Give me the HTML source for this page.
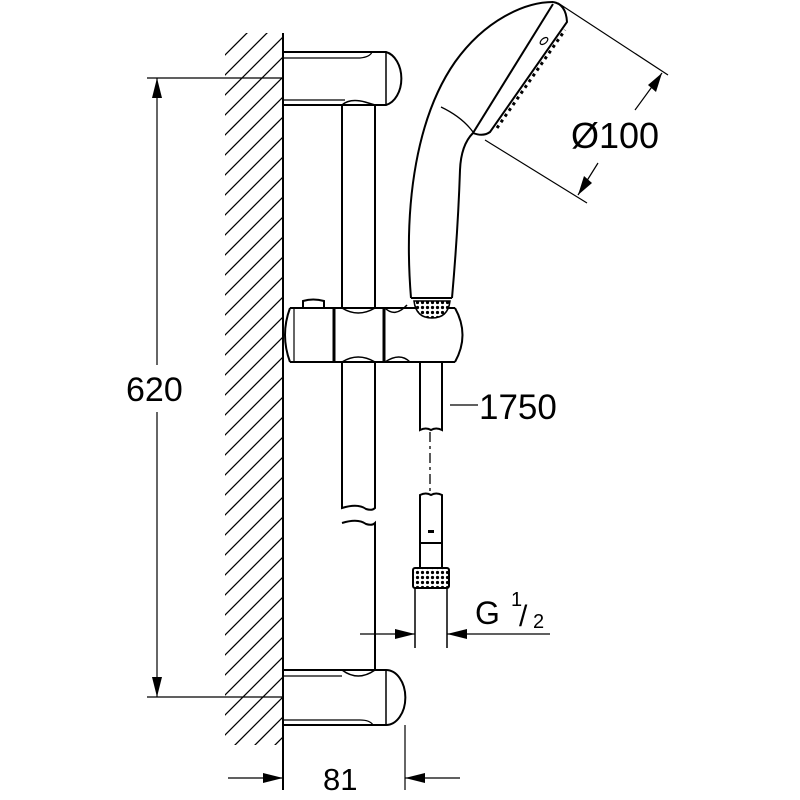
<!DOCTYPE html>
<html><head><meta charset="utf-8"><style>html,body{margin:0;padding:0;background:#fff}svg{display:block}</style></head>
<body>
<svg width="800" height="800" viewBox="0 0 800 800" xmlns="http://www.w3.org/2000/svg" font-family="Liberation Sans, sans-serif">
<defs>
<clipPath id="wall"><rect x="225" y="33" width="58" height="712"/></clipPath>
<pattern id="knurl" width="5" height="5" patternUnits="userSpaceOnUse"><rect width="5" height="5" fill="#fff"/><circle cx="2.5" cy="2.5" r="1.6" fill="#000"/></pattern>
</defs>
<g fill="none" stroke="#000">
<g clip-path="url(#wall)" stroke-width="1.3">
<path d="M200,80 l90,-90 M200,100 l90,-90 M200,120 l90,-90 M200,140 l90,-90 M200,160 l90,-90 M200,180 l90,-90 M200,200 l90,-90 M200,220 l90,-90 M200,240 l90,-90 M200,260 l90,-90 M200,280 l90,-90 M200,300 l90,-90 M200,320 l90,-90 M200,340 l90,-90 M200,360 l90,-90 M200,380 l90,-90 M200,400 l90,-90 M200,420 l90,-90 M200,440 l90,-90 M200,460 l90,-90 M200,480 l90,-90 M200,500 l90,-90 M200,520 l90,-90 M200,540 l90,-90 M200,560 l90,-90 M200,580 l90,-90 M200,600 l90,-90 M200,620 l90,-90 M200,640 l90,-90 M200,660 l90,-90 M200,680 l90,-90 M200,700 l90,-90 M200,720 l90,-90 M200,740 l90,-90 M200,760 l90,-90 M200,780 l90,-90 M200,800 l90,-90 M200,820 l90,-90 M200,840 l90,-90"/>
</g>
<line x1="283" y1="33" x2="283" y2="790" stroke-width="2"/>
<path d="M283,52 H386 A19,27 0 0 1 386,105 H283" stroke-width="2"/>
<line x1="386" y1="52" x2="386" y2="105" stroke-width="1.5"/>
<path d="M283,58 H360 Q370,57 372,52" stroke-width="1.2"/>
<path d="M283,100 H345" stroke-width="1.2"/>
<path d="M342,105 V308 M375,105 V308 M342,362 V508 Q358,503 366,509 Q372,511 375,508 V362 M342,523 Q358,518 366,524 Q372,526 375,523 V670" stroke-width="2"/>
<path d="M342,105 Q350,98 365,102 L375,105" stroke-width="1.5"/>
<path d="M283,670 H386 A19,27 0 0 1 386,725 H283" stroke-width="2"/>
<line x1="386" y1="670" x2="386" y2="725" stroke-width="1.5"/>
<path d="M342,670 Q358,682 375,670" stroke-width="1.5"/>
<path d="M283,720 H360 Q370,720 373,725 M283,676 H342" stroke-width="1.2"/>
<path d="M290,308 H455 M290,362 H455 M290,308 Q280,335 290,362 M455,308 Q470,335 455,362" stroke-width="2"/>
<path d="M342,308 Q358,318 375,308 M342,362 Q358,352 375,362 M385,308 Q395,318 407,305 M385,362 Q400,352 410,362" stroke-width="1.5"/>
<line x1="334" y1="308" x2="334" y2="362" stroke-width="3"/>
<line x1="384" y1="308" x2="384" y2="362" stroke-width="3"/>
<line x1="294" y1="308" x2="294" y2="362" stroke-width="1.2"/>
<path d="M303,308 V301 Q313,298 324,301 V308" stroke-width="2"/>
<!-- handle + head -->
<path d="M411,298 C403,200 418,115 455,62 C485,20 525,2 553,2" stroke-width="2"/>
<path d="M452,298 Q458,230 460,170 Q461,145 473,133" stroke-width="2"/>
<path d="M441,107 Q462,117 473,132" stroke-width="1.3"/>
<path d="M411,298 H452" stroke-width="2"/>
<path d="M414,301 H450 Q448,318 432,318 Q416,318 414,301 Z" fill="url(#knurl)" stroke-width="1.5"/>
<path d="M473,133 L553,4" stroke-width="2"/>
<path d="M553,2 Q566,4 567,22 L490,132 Q483,137 473,133" stroke-width="2"/>
<path d="M497,128 L565,30" stroke-width="3" stroke-dasharray="3,4"/>
<ellipse cx="544" cy="41" rx="2.5" ry="4.5" transform="rotate(50 544 41)" stroke-width="1.2"/>
<!-- hose -->
<path d="M420,362 V430 Q426,427 431,430 Q436,427 442,430 V362" stroke-width="2"/>
<line x1="430" y1="432" x2="430" y2="495" stroke-width="1.3" stroke-dasharray="10,4,3,4"/>
<path d="M420,543 V495 Q426,492 431,495 Q436,492 442,495 V543 M420,543 H442 V568 M420,543 V568" stroke-width="2"/>
<rect x="428" y="530" width="6" height="3" fill="#000" stroke="none"/>
<rect x="413" y="568" width="36" height="20" rx="2" fill="url(#knurl)" stroke-width="2"/>
<path d="M415,588 V648 M447,588 V648" stroke-width="1.5"/>
<g stroke-width="1.2">
<line x1="147" y1="78" x2="283" y2="78"/>
<line x1="147" y1="697" x2="283" y2="697"/>
<line x1="157" y1="78" x2="157" y2="365"/>
<line x1="157" y1="412" x2="157" y2="697"/>
<line x1="405" y1="725" x2="405" y2="790"/>
<line x1="228" y1="778" x2="283" y2="778"/>
<line x1="405" y1="778" x2="460" y2="778"/>
<line x1="360" y1="634" x2="415" y2="634"/>
<line x1="447" y1="634" x2="550" y2="634"/>
<line x1="450" y1="405" x2="478" y2="405"/>
<line x1="485" y1="140" x2="587" y2="203"/>
<line x1="558" y1="3" x2="668" y2="75"/>
<line x1="662" y1="73" x2="635" y2="110"/>
<line x1="578" y1="195" x2="598" y2="163"/>
</g>
</g>
<g fill="#000">
<path d="M157,78 l-5,20 h10 z"/>
<path d="M157,697 l-5,-20 h10 z"/>
<path d="M283,778 l-20,-5 v10 z"/>
<path d="M405,778 l20,-5 v10 z"/>
<path d="M415,634 l-20,-5 v10 z"/>
<path d="M447,634 l20,-5 v10 z"/>
<path d="M662,73 l-6,19 l-8,-7 z"/>
<path d="M578,195 l6,-19 l8,7 z"/>
</g>
<g fill="#000" font-size="34">
<text x="126" y="401">620</text>
<text x="323" y="790" font-size="31">81</text>
<text x="479" y="419" font-size="35">1750</text>
<text x="571" y="148" font-size="36">Ø100</text>
<text x="475" y="624" font-size="32">G</text>
<text x="511" y="606" font-size="20">1</text>
<text x="519" y="626" font-size="30">/</text>
<text x="533" y="628" font-size="20">2</text>
</g>
</svg>
</body></html>
